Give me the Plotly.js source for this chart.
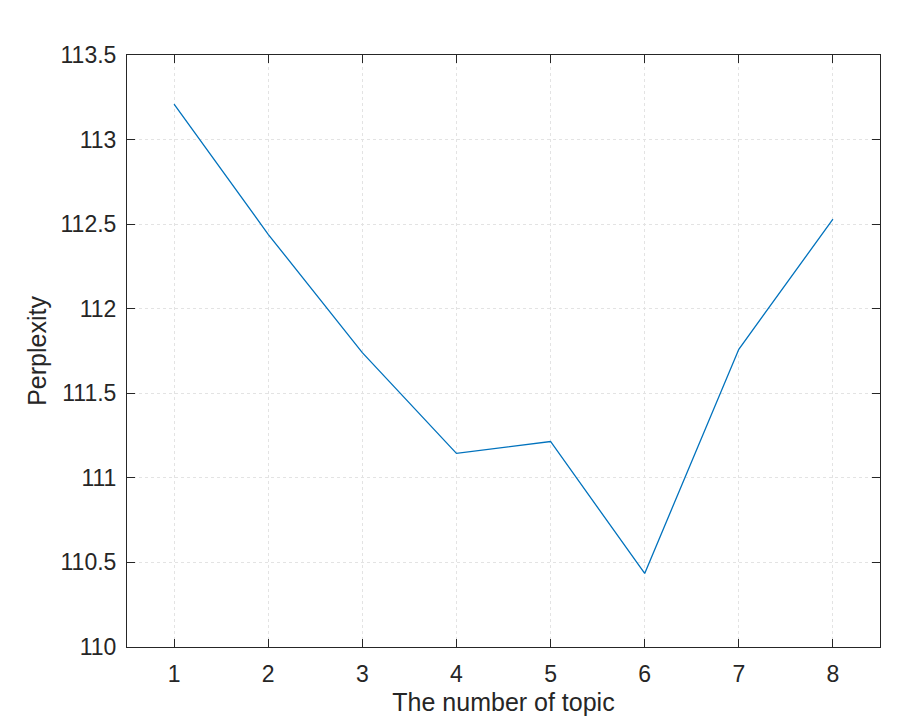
<!DOCTYPE html>
<html><head><meta charset="utf-8">
<script src="https://cdn.plot.ly/plotly-3.0.1.min.js"></script>
<style>html,body{margin:0;padding:0;background:#fff}</style>
</head><body>
<div id="chart" style="width:904px;height:728px"></div>
<script>
const topics = [1, 2, 3, 4, 5, 6, 7, 8];
const perplexity = [113.21, 112.44, 111.74, 111.145, 111.215, 110.435, 111.76, 112.53];
const xTicks = [1, 2, 3, 4, 5, 6, 7, 8];
const yTicks = [110, 110.5, 111, 111.5, 112, 112.5, 113, 113.5];
const yTickText = ['110', '110.5', '111', '111.5', '112', '112.5', '113', '113.5'];

const FONT = 'Liberation Sans, Arial, sans-serif';
const axisCommon = {
  showline: true, linecolor: '#262626', linewidth: 1, mirror: 'ticks',
  ticks: 'inside', ticklen: 8, tickcolor: '#262626', tickwidth: 1,
  showgrid: true, gridcolor: '#e3e3e3', griddash: 'dot', gridwidth: 1,
  zeroline: false,
  tickfont: {family: FONT, size: 23, color: '#262626'}
};

Plotly.newPlot('chart', [{
  x: topics, y: perplexity, type: 'scatter', mode: 'lines',
  line: {color: '#0072BD', width: 1.3}
}], {
  width: 904, height: 728,
  margin: {l: 127, r: 24, t: 55, b: 81},
  paper_bgcolor: '#fff', plot_bgcolor: '#fff',
  showlegend: false,
  xaxis: Object.assign({}, axisCommon, {
    range: [0.5, 8.5], tickvals: xTicks, ticktext: xTicks.map(String),
    ticklabelstandoff: 6,
    title: {text: 'The number of topic', standoff: 7, font: {family: FONT, size: 25, color: '#262626'}}
  }),
  yaxis: Object.assign({}, axisCommon, {
    range: [110, 113.5], tickvals: yTicks, ticktext: yTickText,
    ticklabelstandoff: 5,
    title: {text: 'Perplexity', standoff: 6, font: {family: FONT, size: 25, color: '#262626'}}
  })
}, {displayModeBar: false, staticPlot: true});
</script>
</body></html>
